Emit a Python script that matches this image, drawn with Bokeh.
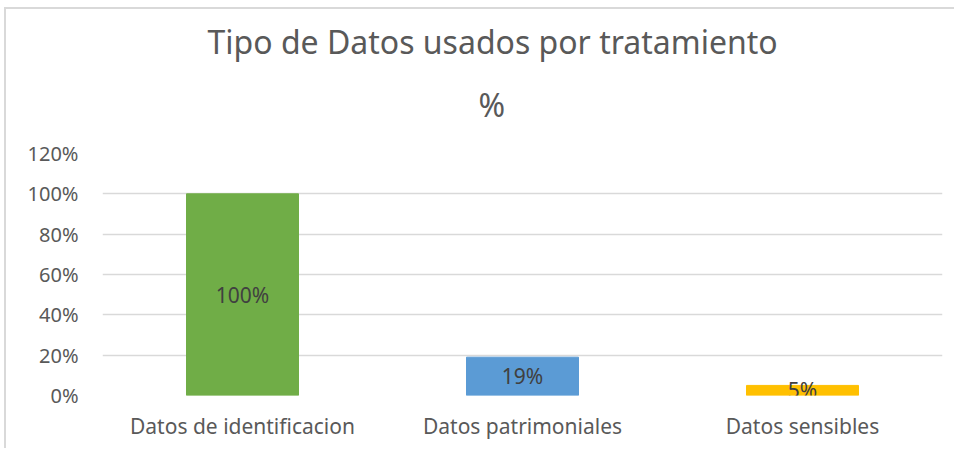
from bokeh.plotting import figure
from bokeh.models import ColumnDataSource, NumeralTickFormatter, FixedTicker, Title
from bokeh.core.properties import value
from bokeh.embed import file_html
from bokeh.resources import INLINE

categories = ["Datos de identificacion", "Datos patrimoniales", "Datos sensibles"]
values = [1.00, 0.19, 0.05]
colors = ["#70AD47", "#5B9BD5", "#FFC000"]
labels = ["100%", "19%", "5%"]
yticks = [0, 0.2, 0.4, 0.6, 0.8, 1.0, 1.2]
title_lines = ["Tipo de Datos usados por tratamiento", "%"]

FONT = "Noto Sans"
GREY = "#595959"
W, H = 950, 441

src = ColumnDataSource(dict(cat=categories, val=values, col=colors, lab=labels,
                            mid=[v / 2 for v in values]))

p = figure(x_range=categories, y_range=(0, 1.2), width=W, height=H,
           output_backend="svg", toolbar_location=None,
           min_border_left=96, min_border_right=14, min_border_top=144, min_border_bottom=55)
p.styles = {"border-left": "2px solid #d9d9d9", "border-top": "2px solid #d9d9d9",
            "margin-left": "4px", "margin-top": "7px"}

p.vbar(x="cat", top="val", width=0.4, color="col", source=src)
p.text(x="cat", y="mid", text="lab", source=src, text_align="center", text_baseline="middle",
       text_font=value(FONT), text_font_size="21px", text_color="#404040")

p.title.text = title_lines[0]
p.title.align = "left"
p.title.offset = 105
p.title.text_font = FONT
p.title.text_font_size = "32px"
p.title.text_font_style = "normal"
p.title.text_color = GREY
p.title.standoff = -19
p.add_layout(Title(text=title_lines[1], align="left", offset=376,
                   text_font=FONT, text_font_size="32px", text_font_style="normal",
                   text_color=GREY, standoff=55), "above")

p.outline_line_color = None
p.xgrid.grid_line_color = None
p.ygrid.grid_line_color = "#d9d9d9"
p.ygrid.grid_line_width = 1.5
p.yaxis.ticker = FixedTicker(ticks=yticks)
p.yaxis.formatter = NumeralTickFormatter(format="0%")
for ax in (p.xaxis, p.yaxis):
    ax.axis_line_color = None
    ax.major_tick_line_color = None
    ax.minor_tick_line_color = None
    ax.major_label_text_font = FONT
    ax.major_label_text_color = GREY
p.xaxis.major_label_text_font_size = "21px"
p.yaxis.major_label_text_font_size = "20px"
p.xaxis.major_label_standoff = 10
p.yaxis.major_label_standoff = 18
p.x_range.range_padding = 0

open("out.html", "w").write(file_html(p, INLINE))
